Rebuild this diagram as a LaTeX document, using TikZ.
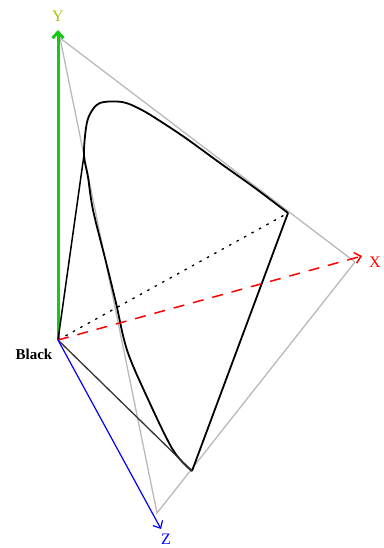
\documentclass[tikz,border=0pt]{standalone}
\usepackage{fontspec}
\setmainfont{Liberation Serif}
\usetikzlibrary{arrows.meta}
\usepackage{xcolor}
\definecolor{ycolor}{RGB}{160,200,0}
\definecolor{axisgreen}{RGB}{20,200,20}
\definecolor{edgegray}{RGB}{185,185,185}

\begin{document}
\begin{tikzpicture}[x=1pt, y=-1pt]
  \tikzset{
    edge/.style={
      draw=edgegray,
      line width=1.3pt
    },
    locus/.style={
      draw=black,
      line width=1.8pt,
      line join=round
    },
    ray/.style={
      draw=black!80,
      line width=1.3pt
    },
    axis/.style={
      line width=1.4pt,
      -{Straight Barb[length=6pt, width=11pt]}
    },
    axislabel/.style={
      font=\fontsize{16}{18}\selectfont,
      inner sep=1pt
    }
  }
  \useasboundingbox (0,0) rectangle (383,548);

  % Corners of the triangle and end points of the axes
  \coordinate (black) at (58,340);
  \coordinate (ycorner) at (60,38);
  \coordinate (xcorner) at (355,262);
  \coordinate (zcorner) at (157,513);
  \coordinate (ytip) at (58,30);
  \coordinate (xtip) at (362,256);
  \coordinate (ztip) at (161,529);

  % Points on the spectral locus
  \coordinate (green) at (84,155);
  \coordinate (red) at (288,213);
  \coordinate (blue) at (192,471);

  % Draw the triangle
  \draw[edge] (ycorner) -- (xcorner) -- (zcorner) -- cycle;

  % Draw the Y axis
  \draw[axis, draw=axisgreen, line width=3pt] (black) -- (ytip);

  % Draw the spectral locus
  \draw[locus] plot[smooth, tension=0.55] coordinates {
    (192,471) (173,450) (147,397) (127,350) (116,303) (106,262)
    (93,210) (88,177) (84,155) (86,128) (90,114) (100,103)
    (122,102) (140,109) (160,121) (187,139) (220,163) (255,188)
    (288,213)
  };
  \draw[locus] (red) -- (blue);

  % Draw the rays from black
  \draw[locus, line width=1.5pt] (black) -- (green);
  \draw[ray] (black) -- (blue);
  \draw[draw=black, line width=1.3pt, dash pattern=on 2.5pt off 6pt] (black) -- (red);

  % Draw the X and Z axes
  \draw[axis, draw=red, line width=1.5pt, dash pattern=on 11pt off 9pt] (black) -- (xtip);
  \draw[axis, draw=blue, line width=1.2pt] (black) -- (ztip);

  % Add the labels
  \node[axislabel, text=ycolor] (ylabel) at (58,16) {Y};
  \node[axislabel, text=red] (xlabel) at (375,262) {X};
  \node[axislabel, text=blue] (zlabel) at (166,539) {Z};
  \node[font=\fontsize{15}{17}\selectfont\bfseries] (blacklabel) at (34,354) {Black};
\end{tikzpicture}
\end{document}
